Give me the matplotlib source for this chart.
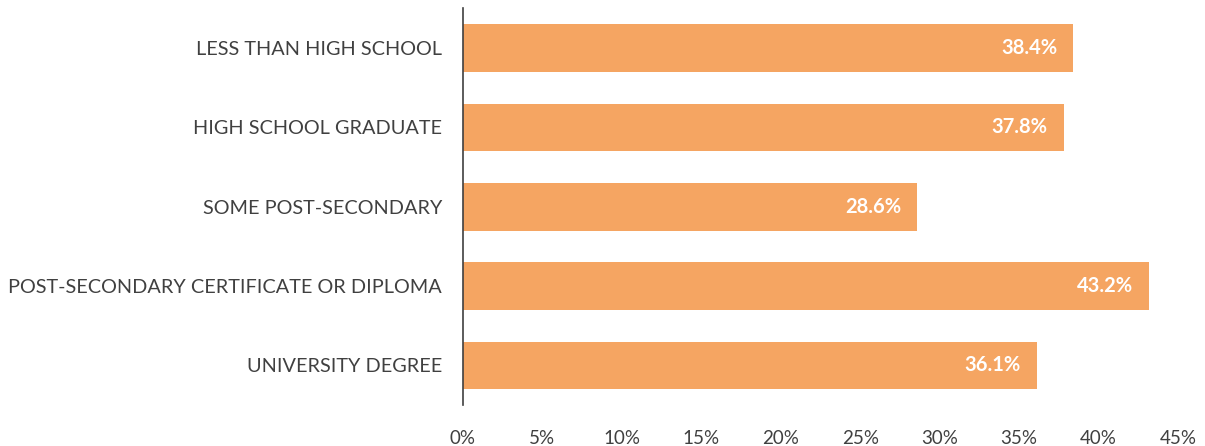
import matplotlib
matplotlib.use("Agg")
from matplotlib import pyplot as plt
from matplotlib.ticker import FuncFormatter

plt.rcParams["font.family"] = ["Lato", "DejaVu Sans"]

categories = [
    "LESS THAN HIGH SCHOOL",
    "HIGH SCHOOL GRADUATE",
    "SOME POST-SECONDARY",
    "POST-SECONDARY CERTIFICATE OR DIPLOMA",
    "UNIVERSITY DEGREE",
]
values = [38.4, 37.8, 28.6, 43.2, 36.1]
ticks = [0, 5, 10, 15, 20, 25, 30, 35, 40, 45]

bar_color = "#F5A562"
text_color = "#404040"

fig = plt.figure(figsize=(12.05, 4.46), dpi=100)
ax = fig.add_axes([0.3842, 0.092, 0.5934, 0.889])

pos = list(range(len(categories)))[::-1]
ax.barh(pos, values, height=0.6, color=bar_color)

for p, v in zip(pos, values):
    ax.text(v - 1.0, p, f"{v:.1f}%", ha="right", va="center",
            color="white", fontsize=14.5, fontweight="bold")

ax.set_xlim(0, 45)
ax.set_ylim(-0.5, len(categories) - 0.5)
ax.set_xticks(ticks)
ax.xaxis.set_major_formatter(FuncFormatter(lambda x, _: f"{x:.0f}%"))
ax.set_yticks(pos)
ax.set_yticklabels(categories)

for s in ["top", "right", "bottom"]:
    ax.spines[s].set_visible(False)
ax.spines["left"].set_color("#404040")
ax.spines["left"].set_linewidth(1.2)

ax.tick_params(axis="x", length=0, pad=18, labelsize=13.5, colors=text_color)
ax.tick_params(axis="y", length=0, pad=15, labelsize=14.3, colors=text_color)

fig.savefig("out.png", dpi=100)
